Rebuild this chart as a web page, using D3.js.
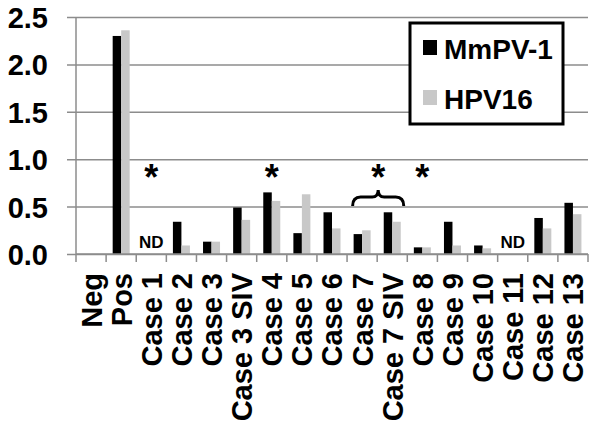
<!DOCTYPE html>
<html>
<head>
<meta charset="utf-8">
<script src="https://d3js.org/d3.v7.min.js"></script>
<style>
  body { margin: 0; background: #fff; }
  text { font-family: "Liberation Sans", Arial, sans-serif; font-weight: bold; }
</style>
</head>
<body>
<div id="chart"></div>
<script>
// Categories and values
const categories = ["Neg", "Pos", "Case 1", "Case 2", "Case 3", "Case 3 SIV", "Case 4", "Case 5",
  "Case 6", "Case 7", "Case 7 SIV", "Case 8", "Case 9", "Case 10", "Case 11", "Case 12", "Case 13"];
const seriesNames = ["MmPV-1", "HPV16"];
const mmpv1 = [0, 2.30, 0, 0.34, 0.13, 0.49, 0.65, 0.22, 0.44, 0.21, 0.44, 0.07, 0.34, 0.09, 0, 0.38, 0.54];
const hpv16 = [0, 2.36, 0, 0.09, 0.13, 0.36, 0.56, 0.63, 0.27, 0.25, 0.34, 0.07, 0.09, 0.06, 0, 0.27, 0.42];
const yTicks = [0, 0.5, 1.0, 1.5, 2.0, 2.5];
const ndCategories = ["Case 1", "Case 11"];
const starCategories = ["Case 1", "Case 4", "Case 8"];
const bracePair = ["Case 7", "Case 7 SIV"];

const colors = ["#000000", "#c8c8c8"];

const width = 600;
const height = 437;
const margin = { top: 17, right: 12, bottom: 183, left: 76 };

const svg = d3.select("#chart")
    .append("svg")
    .attr("width", width)
    .attr("height", height);

const x = d3.scaleBand()
    .domain(categories)
    .range([margin.left, width - margin.right])
    .padding(0);

const y = d3.scaleLinear()
    .domain([0, 2.5])
    .range([height - margin.bottom, margin.top]);

const groupWidth = 17;
const xSub = d3.scaleBand()
    .domain(seriesNames)
    .range([0, groupWidth]);

// Gridlines + y labels
const yAxis = svg.append("g")
    .attr("transform", `translate(${margin.left},0)`)
    .call(d3.axisLeft(y).tickValues(yTicks).tickFormat(d3.format(".1f"))
        .tickSize(-(width - margin.left - margin.right)).tickSizeOuter(0).tickPadding(28));
yAxis.select(".domain").remove();
yAxis.selectAll(".tick line")
    .attr("x1", -9)
    .attr("stroke", "#8c8c8c")
    .attr("stroke-width", 1.5);
yAxis.selectAll(".tick text")
    .attr("font-size", 29)
    .attr("fill", "#000")
    .attr("dy", "0.36em");

// vertical axis line
svg.append("line")
    .attr("x1", margin.left).attr("x2", margin.left)
    .attr("y1", y(2.5)).attr("y2", y(0))
    .attr("stroke", "#8c8c8c")
    .attr("stroke-width", 1.5);

// Bars
const rows = categories.map((c, i) => ({ cat: c, values: [mmpv1[i], hpv16[i]] }));
const groups = svg.append("g")
    .selectAll("g")
    .data(rows)
    .enter()
    .append("g")
    .attr("transform", d => `translate(${x(d.cat) + x.bandwidth() / 2 - groupWidth / 2},0)`);

groups.selectAll("rect")
    .data(d => d.values.map((v, i) => ({ key: seriesNames[i], value: v, i: i })))
    .enter()
    .append("rect")
    .attr("x", d => xSub(d.key))
    .attr("width", xSub.bandwidth())
    .attr("y", d => y(d.value))
    .attr("height", d => y(0) - y(d.value))
    .attr("fill", d => colors[d.i]);

// X axis
const xAxis = svg.append("g")
    .attr("transform", `translate(0,${y(0)})`)
    .call(d3.axisBottom(x).tickSize(0).tickPadding(0));
xAxis.select(".domain").remove();
svg.append("line")
    .attr("x1", margin.left).attr("x2", width - margin.right)
    .attr("y1", y(0)).attr("y2", y(0))
    .attr("stroke", "#8c8c8c")
    .attr("stroke-width", 1.5);
svg.append("g")
    .selectAll("line")
    .data(categories.concat([null]))
    .enter()
    .append("line")
    .attr("x1", (d, i) => margin.left + i * x.step())
    .attr("x2", (d, i) => margin.left + i * x.step())
    .attr("y1", y(0))
    .attr("y2", y(0) + 8)
    .attr("stroke", "#8c8c8c")
    .attr("stroke-width", 1.5);
xAxis.selectAll(".tick text")
    .attr("font-size", 29)
    .attr("fill", "#000")
    .attr("text-anchor", "end")
    .attr("transform", "translate(0,19) rotate(-90)")
    .attr("x", 0)
    .attr("y", 0)
    .attr("dy", "0.36em");

// ND labels
svg.append("g")
    .selectAll("text")
    .data(ndCategories)
    .enter()
    .append("text")
    .attr("x", d => x(d) + x.bandwidth() / 2)
    .attr("y", y(0) - 6)
    .attr("text-anchor", "middle")
    .attr("font-size", 17)
    .text("ND");

// Asterisks
const starY = 190;
svg.append("g")
    .selectAll("text")
    .data(starCategories)
    .enter()
    .append("text")
    .attr("x", d => x(d) + x.bandwidth() / 2)
    .attr("y", starY)
    .attr("text-anchor", "middle")
    .attr("font-size", 36)
    .text("*");

// Brace over Case 7 / Case 7 SIV
const bx1 = x(bracePair[0]) + x.bandwidth() / 2 - groupWidth / 2 - 1;
const bx2 = x(bracePair[1]) + x.bandwidth() / 2 + groupWidth / 2 + 3;
const bmid = (bx1 + bx2) / 2;
const bTop = 190, bMidY = 197, bBot = 206;
svg.append("path")
    .attr("d", `M${bx1},${bBot} Q${bx1},${bMidY} ${bx1 + 8},${bMidY} L${bmid - 6},${bMidY} Q${bmid},${bMidY} ${bmid},${bTop} Q${bmid},${bMidY} ${bmid + 6},${bMidY} L${bx2 - 8},${bMidY} Q${bx2},${bMidY} ${bx2},${bBot}`)
    .attr("fill", "none")
    .attr("stroke", "#000")
    .attr("stroke-width", 3);
svg.append("text")
    .attr("x", bmid)
    .attr("y", starY)
    .attr("text-anchor", "middle")
    .attr("font-size", 36)
    .text("*");

// Legend
const legend = svg.append("g")
    .attr("transform", "translate(410,23)");
legend.append("rect")
    .attr("width", 153)
    .attr("height", 101)
    .attr("fill", "#fff")
    .attr("stroke", "#000")
    .attr("stroke-width", 3);
const items = legend.selectAll("g.item")
    .data(seriesNames)
    .enter()
    .append("g")
    .attr("class", "item")
    .attr("transform", (d, i) => `translate(13,${17 + i * 50})`);
items.append("rect")
    .attr("width", 14)
    .attr("height", 15)
    .attr("fill", (d, i) => colors[i]);
items.append("text")
    .attr("x", 21)
    .attr("y", 19)
    .attr("font-size", 28)
    .text(d => d);
</script>
</body>
</html>
